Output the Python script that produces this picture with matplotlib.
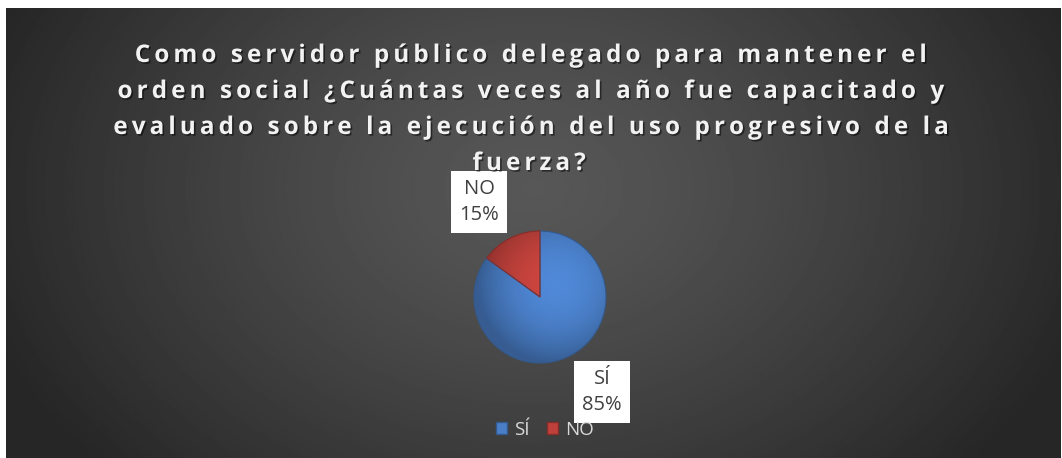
import numpy as np
import matplotlib.pyplot as plt
from matplotlib import patheffects as pe
from matplotlib.colors import to_rgb

categories = ['SÍ', 'NO']
values = [85, 15]
pct_labels = ['85%', '15%']
colors = ['#4a7fc8', '#c0413b']
title_lines = [
    'Como servidor público delegado para mantener el',
    'orden social ¿Cuántas veces al año fue capacitado y',
    'evaluado sobre la ejecución del uso progresivo de la',
    'fuerza?',
]

W, H = 1062, 458
fig = plt.figure(figsize=(W / 100, H / 100), dpi=100)
fig.patch.set_facecolor('white')

# dark panel with a radial gradient
bg = fig.add_axes([6 / W, 0, (1061 - 6) / W, (458 - 8) / H])
bg.axis('off')
yy, xx = np.mgrid[0:1:300j, 0:1:700j]
r = np.sqrt(((xx - 0.5) / 0.55) ** 2 + ((yy - 0.4) / 0.95) ** 2)
g = 0x57 / 255 + (0x26 / 255 - 0x57 / 255) * np.clip(r, 0, 1) ** 1.3
bg.imshow(g, cmap='gray', vmin=0, vmax=1, extent=[0, 1, 0, 1], aspect='auto', origin='upper')
bg.set_xlim(0, 1)
bg.set_ylim(0, 1)

# title, spaced out like the original (letter spacing via six-per-em spaces)
sp = '\u2006'
for i, line in enumerate(title_lines):
    y = [62, 98, 134, 170][i]
    fig.text(529 / W, 1 - y / H, sp.join(line), ha='center', va='baseline',
             fontsize=17.5, fontweight='bold', family=['Open Sans', 'DejaVu Sans'],
             color='#f2f2f2', zorder=10,
             path_effects=[pe.withSimplePatchShadow(offset=(1.2, -1.2), shadow_rgbFace='black', alpha=0.5)])

# pie
pax = fig.add_axes([474 / W, 95 / H, 132 / W, 132 / H])
wedges, _ = pax.pie(values, colors=colors, startangle=90, counterclock=False,
                    wedgeprops=dict(edgecolor='none', linewidth=0))

gx, gy = np.meshgrid(np.linspace(-1, 1, 300), np.linspace(-1, 1, 300))
rr = np.clip(np.sqrt((gx - 0.25) ** 2 + (gy - 0.2) ** 2) / 1.2, 0, 1)
shade = 1.08 - 0.35 * rr ** 2
for w, c in zip(wedges, colors):
    rgb = np.clip(np.array(to_rgb(c))[None, None, :] * shade[..., None], 0, 1)
    im = pax.imshow(rgb, extent=[-1, 1, -1, 1], origin='lower', zorder=2)
    im.set_clip_path(w)
    w.set_edgecolor([x * 0.7 for x in to_rgb(c)])
    w.set_linewidth(0.8)
    w.set_zorder(3)
    w.set_facecolor('none')
pax.set_xlim(-1, 1)
pax.set_ylim(-1, 1)
pax.axis('off')

# data labels
label_pos = [(0.94, -1.44), (-0.92, 1.44)]
for cat, pct, (lx, ly) in zip(categories, pct_labels, label_pos):
    pax.text(lx, ly, cat + '\n' + pct, ha='center', va='center', fontsize=14.5,
             family='Open Sans', color='#404040', linespacing=1.4, zorder=5, clip_on=False,
             bbox=dict(boxstyle='square,pad=0.4', fc='white', ec='none'))

leg = fig.legend(handles=[plt.Rectangle((0, 0), 1, 1, fc=c, ec=[x * 0.7 for x in to_rgb(c)]) for c in colors],
                 labels=categories, loc='center', bbox_to_anchor=(545 / W, 1 - 430 / H),
                 ncol=2, frameon=False, handlelength=0.6, handleheight=0.6,
                 handletextpad=0.4, columnspacing=0.9,
                 prop=dict(family='Open Sans', size=13.5))
for t in leg.get_texts():
    t.set_color('#d9d9d9')

fig.savefig('out.png', dpi=100)
